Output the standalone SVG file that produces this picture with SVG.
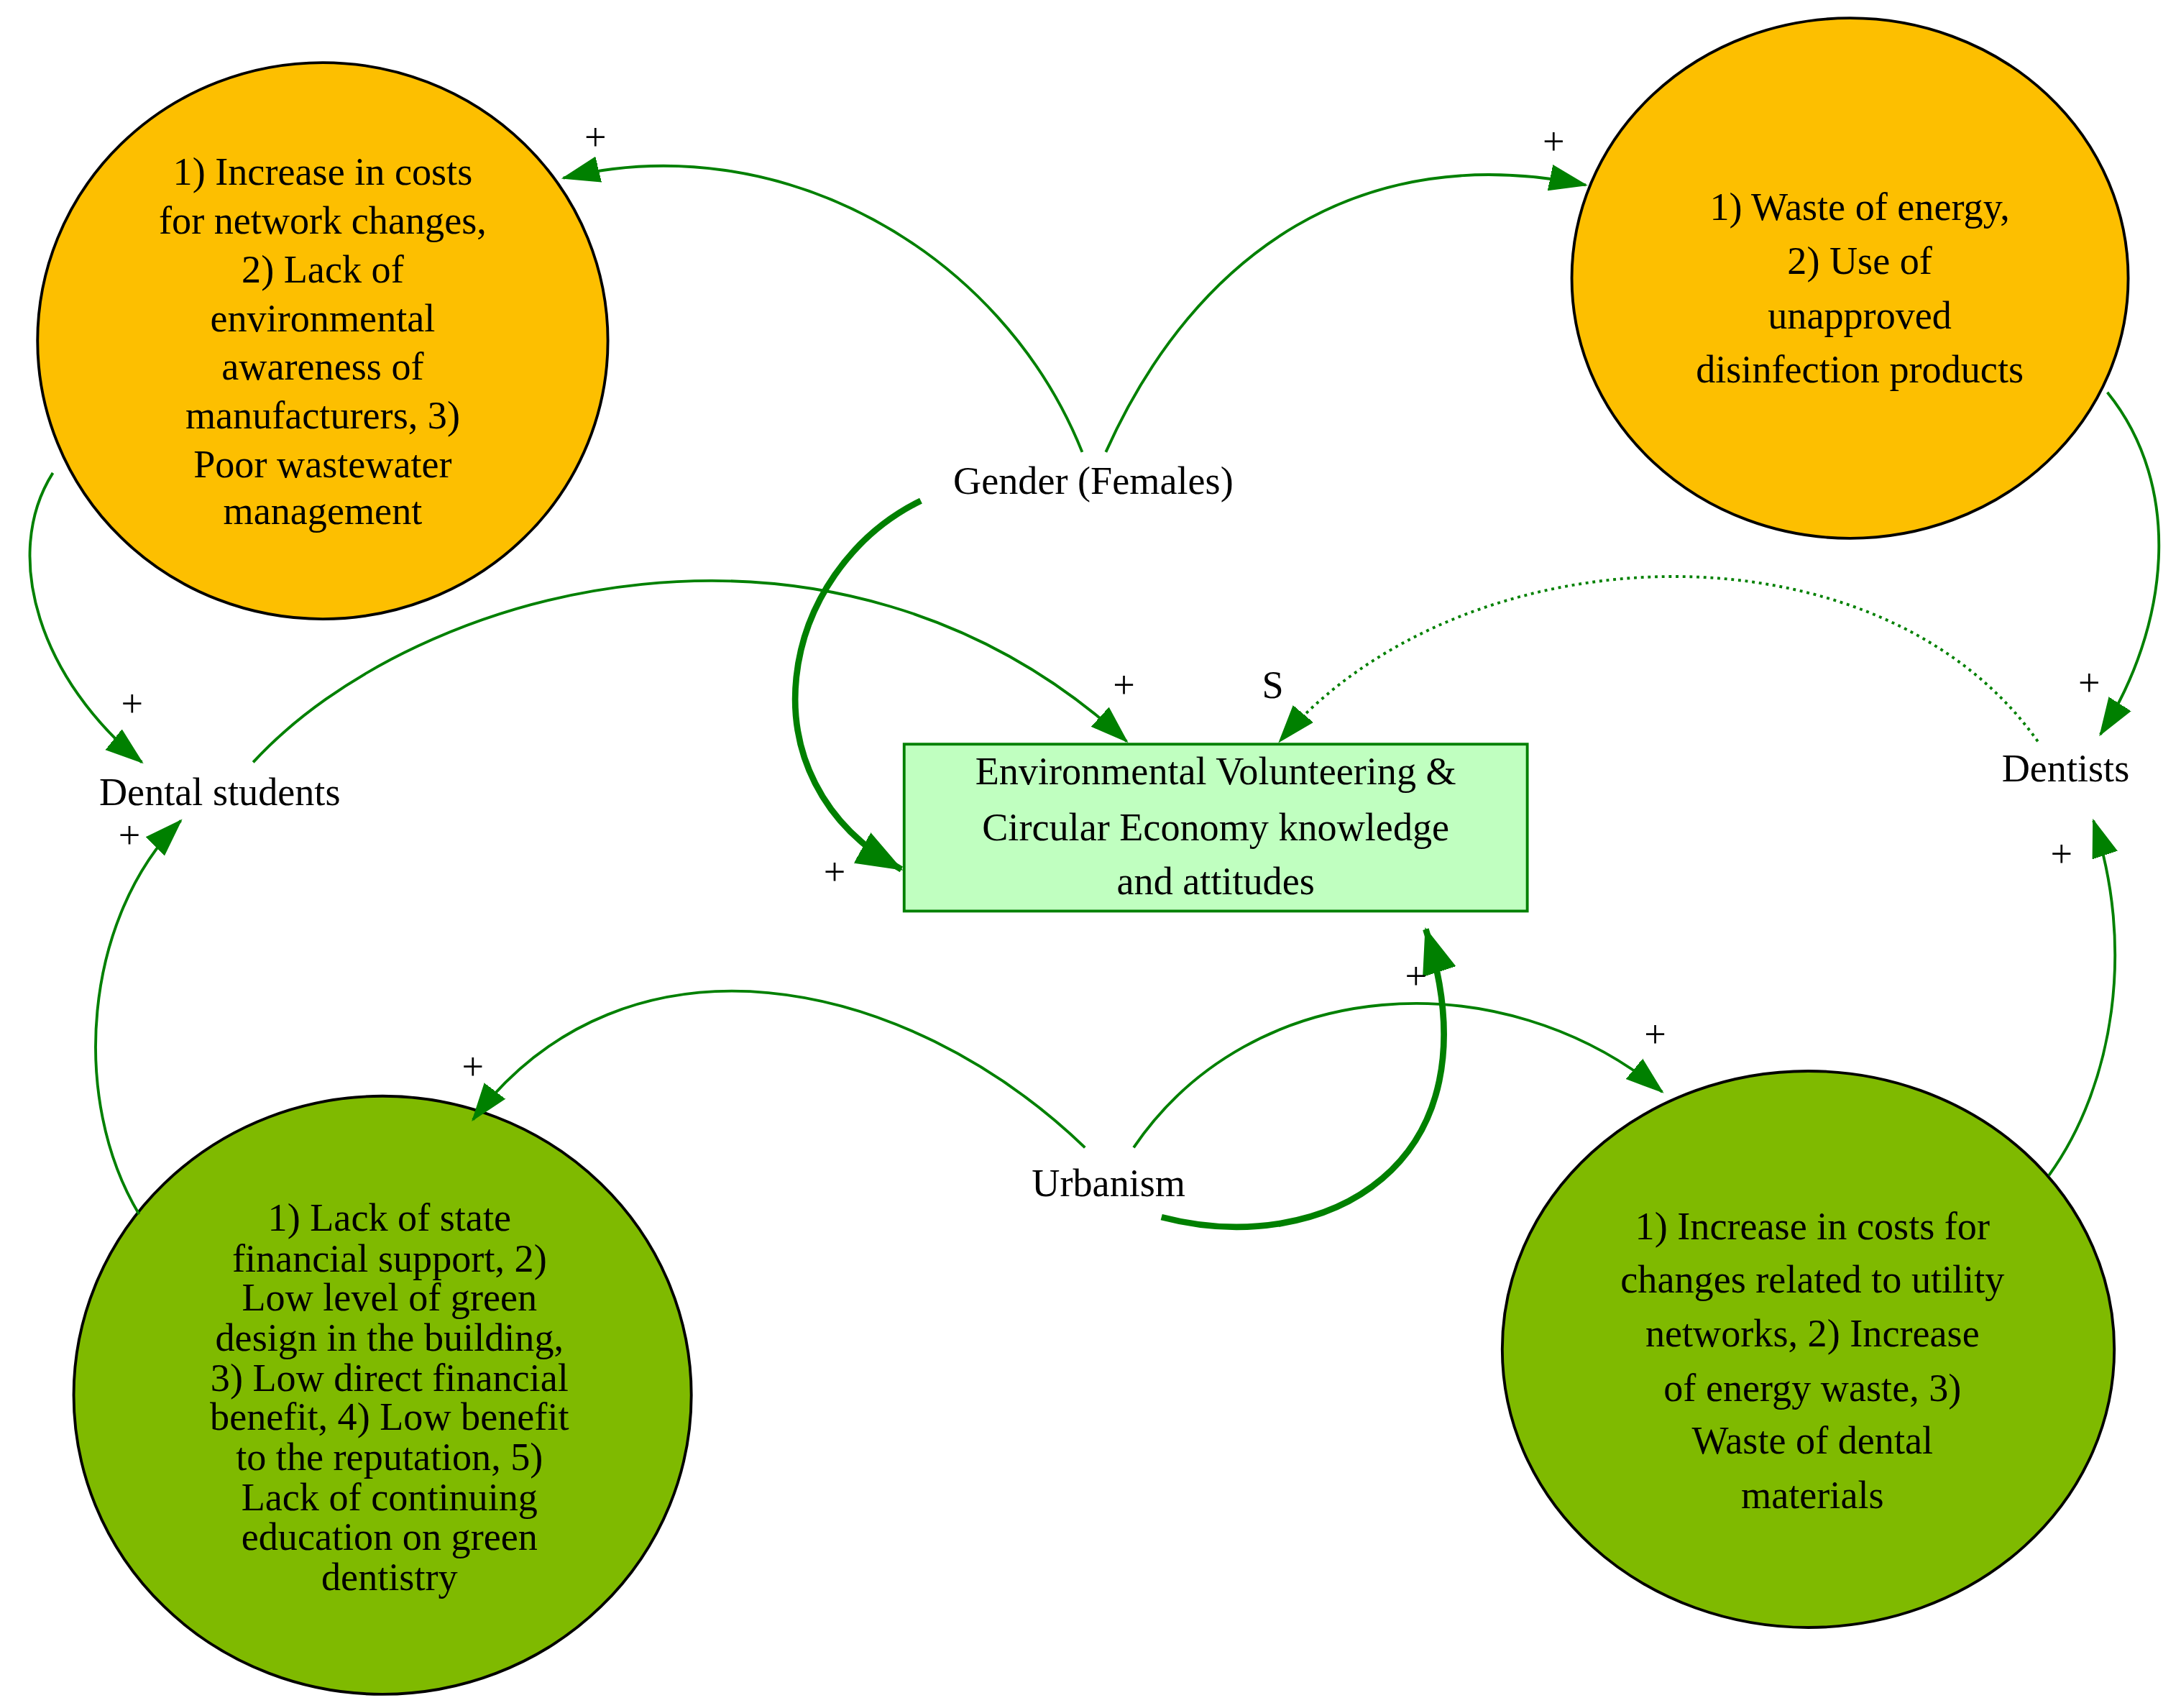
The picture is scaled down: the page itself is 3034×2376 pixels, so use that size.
<svg xmlns="http://www.w3.org/2000/svg" width="3034" height="2376" viewBox="0 0 3034 2376">
<style>
text{font-family:"Liberation Serif","Times New Roman",serif;font-size:28px;fill:#000;text-anchor:middle}
.e{fill:none;stroke:#008000;stroke-width:2}
.t{fill:none;stroke:#008000;stroke-width:4.5}
.n{stroke:#000;stroke-width:2}
</style>
<defs>
<marker id="a" markerUnits="userSpaceOnUse" markerWidth="30" markerHeight="20" refX="26" refY="10" orient="auto"><path d="M0,1 L26,10 L0,19 Z" fill="#008000" stroke="#008000"/></marker>
<marker id="b" markerUnits="userSpaceOnUse" markerWidth="36" markerHeight="26" refX="32" refY="13" orient="auto"><path d="M0,1 L32,13 L0,25 Z" fill="#008000" stroke="#008000"/></marker>
</defs>
<rect width="3034" height="2376" fill="#fff"/>
<g transform="scale(1.935)">
<g id="n1"><ellipse class="n" cx="232" cy="245" rx="205" ry="200" fill="#FDBF00"/>
<text x="232" y="133">1) Increase in costs</text><text x="232" y="168">for network changes,</text><text x="232" y="203">2) Lack of</text><text x="232" y="238">environmental</text><text x="232" y="273">awareness of</text><text x="232" y="308">manufacturers, 3)</text><text x="232" y="343">Poor wastewater</text><text x="232" y="377">management</text></g>
<g id="n2"><ellipse class="n" cx="1330" cy="200" rx="200" ry="187" fill="#FDBF00"/>
<text x="1337" y="158">1) Waste of energy,</text><text x="1337" y="197">2) Use of</text><text x="1337" y="236">unapproved</text><text x="1337" y="275">disinfection products</text></g>
<g id="n3"><ellipse class="n" cx="275" cy="1003" rx="222" ry="215" fill="#7FBA00"/>
<text x="280" y="885">1) Lack of state</text><text x="280" y="914">financial support, 2)</text><text x="280" y="942">Low level of green</text><text x="280" y="971">design in the building,</text><text x="280" y="1000">3) Low direct financial</text><text x="280" y="1028">benefit, 4) Low benefit</text><text x="280" y="1057">to the reputation, 5)</text><text x="280" y="1086">Lack of continuing</text><text x="280" y="1114">education on green</text><text x="280" y="1143">dentistry</text></g>
<g id="n4"><ellipse class="n" cx="1300" cy="970" rx="220" ry="200" fill="#7FBA00"/>
<text x="1303" y="891">1) Increase in costs for</text><text x="1303" y="929">changes related to utility</text><text x="1303" y="968">networks, 2) Increase</text><text x="1303" y="1007">of energy waste, 3)</text><text x="1303" y="1045">Waste of dental</text><text x="1303" y="1084">materials</text></g>
<g id="n5"><rect x="650" y="535" width="448" height="120" fill="#C0FFC0" stroke="#008000" stroke-width="2"/>
<text x="874" y="564">Environmental Volunteering &amp;</text><text x="874" y="604">Circular Economy knowledge</text><text x="874" y="643">and attitudes</text></g>
<g id="n6"><text x="786" y="355">Gender (Females)</text></g>
<g id="n7"><text x="158" y="579">Dental students</text></g>
<g id="n8"><text x="1485" y="562">Dentists</text></g>
<g id="n9"><text x="797" y="860">Urbanism</text></g>
<g id="edges">
<path class="e" d="M778,325 C720,180 560,90 405,128" marker-end="url(#a)"/>
<path class="e" d="M795,325 C860,180 980,100 1140,133" marker-end="url(#a)"/>
<path class="t" d="M662,360 C560,410 530,560 648,625" marker-end="url(#b)"/>
<path class="e" d="M38,340 C0,400 30,490 102,548" marker-end="url(#a)"/>
<path class="e" d="M182,548 C300,420 600,340 810,533" marker-end="url(#a)"/>
<path class="e" d="M1465,533 C1350,370 1050,380 920,533" stroke-dasharray="2,3" marker-end="url(#a)"/>
<path class="e" d="M1515,282 C1570,350 1560,450 1510,528" marker-end="url(#a)"/>
<path class="e" d="M100,873 C50,790 60,660 130,590" marker-end="url(#a)"/>
<path class="e" d="M780,825 C650,700 450,660 340,805" marker-end="url(#a)"/>
<path class="e" d="M815,825 C900,700 1080,690 1195,785" marker-end="url(#a)"/>
<path class="t" d="M835,875 C950,905 1080,840 1025,668" marker-end="url(#b)"/>
<path class="e" d="M1473,845 C1520,780 1535,680 1505,590" marker-end="url(#a)"/>
<text x="428" y="108">+</text><text x="1117" y="111">+</text><text x="600" y="636">+</text><text x="95" y="515">+</text>
<text x="808" y="502">+</text><text x="915" y="502">S</text><text x="1502" y="500">+</text><text x="93" y="610">+</text>
<text x="340" y="776">+</text><text x="1190" y="753">+</text><text x="1018" y="711">+</text><text x="1482" y="623">+</text>
</g>
</g>
</svg>
